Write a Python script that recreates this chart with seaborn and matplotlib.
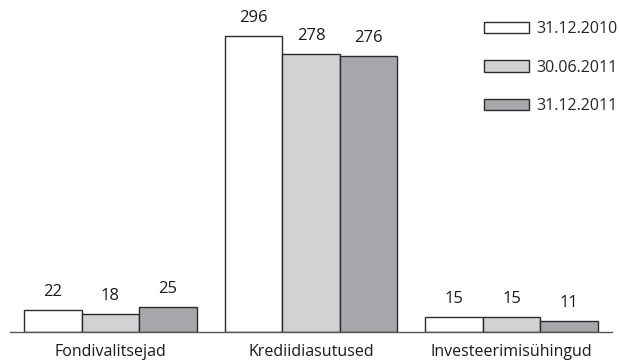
import matplotlib
matplotlib.use("Agg")
import matplotlib.pyplot as plt
import seaborn as sns
import pandas as pd
from matplotlib.ticker import FixedLocator

categories = ["Fondivalitsejad", "Krediidiasutused", "Investeerimisühingud"]
periods = ["31.12.2010", "30.06.2011", "31.12.2011"]
values_2010_12 = [22, 296, 15]
values_2011_06 = [18, 278, 15]
values_2011_12 = [25, 276, 11]
colors = ["#ffffff", "#d1d2d4", "#a7a8ab"]

rows = []
for period, vals in zip(periods, [values_2010_12, values_2011_06, values_2011_12]):
    for cat, v in zip(categories, vals):
        rows.append({"kategooria": cat, "periood": period, "arv": v})
df = pd.DataFrame(rows)

sns.set_theme(style="white")
plt.rcParams["font.family"] = ["Open Sans", "DejaVu Sans"]

fig = plt.figure(figsize=(6.19, 3.64), dpi=100)
ax = fig.add_axes([10 / 619, 1 - 332 / 364, 602 / 619, 332 / 364])

sns.barplot(data=df, x="kategooria", y="arv", hue="periood", order=categories,
            hue_order=periods, palette=colors, edgecolor="#2b2b2b", linewidth=1.0,
            width=0.86, saturation=1, ax=ax)

for cont in ax.containers:
    ax.bar_label(cont, fmt="%d", padding=7, fontsize=12, color="#1a1a1a")

ax.set_xlim(-0.5, 2.5)
ax.set_ylim(0, 332)
ax.set_xlabel("")
ax.set_ylabel("")
ax.set_yticks([])
for s in ["left", "right", "top"]:
    ax.spines[s].set_visible(False)
ax.spines["bottom"].set_color("#555555")
ax.spines["bottom"].set_linewidth(1.0)

ax.tick_params(axis="x", which="major", length=0, pad=9, labelsize=11.5, labelcolor="#1a1a1a")
ax.xaxis.set_minor_locator(FixedLocator([-0.5, 0.5, 1.5, 2.5]))
ax.tick_params(axis="x", which="minor", length=10, width=1.0, color="#555555", direction="out")

handles, labels = ax.get_legend_handles_labels()
ax.legend(handles, labels, loc="upper right", bbox_to_anchor=(1.025, 0.965),
          frameon=False, fontsize=11.5, handlelength=2.85, handleheight=0.75,
          labelspacing=1.4, handletextpad=0.45, borderaxespad=0.2)

fig.savefig("out.png", dpi=100)
